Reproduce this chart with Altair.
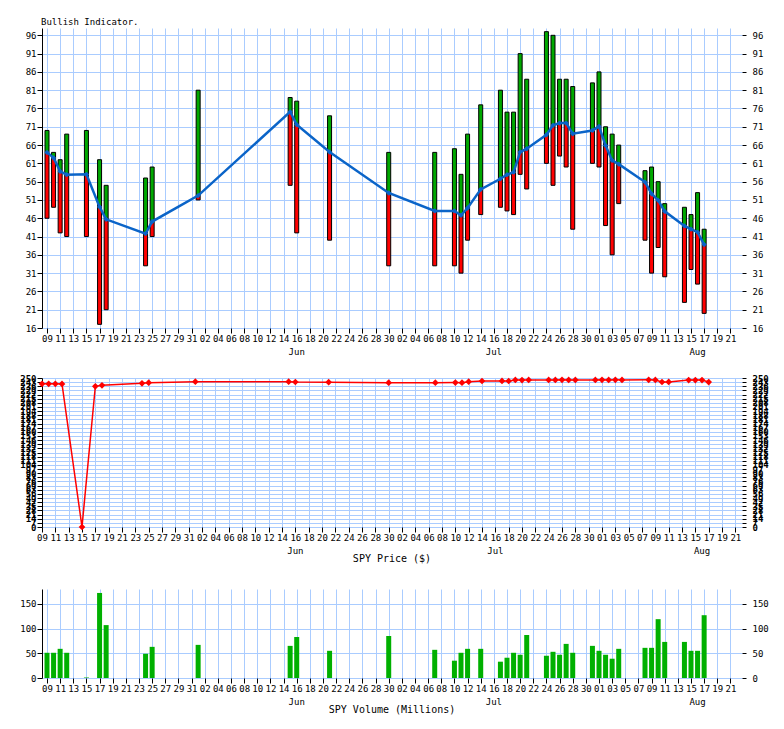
import datetime as dt
import altair as alt
import pandas as pd

# ---------------- data ----------------
dates = [
    "2017-05-09", "2017-05-10", "2017-05-11", "2017-05-12", "2017-05-15",
    "2017-05-17", "2017-05-18", "2017-05-24", "2017-05-25",
    "2017-06-01", "2017-06-15", "2017-06-16", "2017-06-21", "2017-06-30",
    "2017-07-07", "2017-07-10", "2017-07-11", "2017-07-12", "2017-07-14",
    "2017-07-17", "2017-07-18", "2017-07-19", "2017-07-20", "2017-07-21",
    "2017-07-24", "2017-07-25", "2017-07-26", "2017-07-27", "2017-07-28",
    "2017-07-31",
    "2017-08-01", "2017-08-02", "2017-08-03", "2017-08-04", "2017-08-08",
    "2017-08-09", "2017-08-10", "2017-08-11", "2017-08-14", "2017-08-15",
    "2017-08-16", "2017-08-17",
]
highs = [70, 64, 62, 69, 70, 62, 55, 57, 60,
         81, 79, 78, 74, 64,
         64, 65, 58, 69, 77, 81, 75, 75, 91, 84, 97, 96, 84, 84, 82, 83,
         86, 71, 69, 66, 59, 60, 56, 50, 49, 47, 53, 43]
mids = [64, 62.5, 58.8, 57.9, 58, 49.1, 45.7, 41.8, 45.1,
        52.2, 75.1, 71.6, 64.1, 52.9,
        48, 48, 46.8, 48.8, 53.9, 56.8, 57.9, 58.6, 64.1, 65, 68.8, 71.4, 72, 72, 69.1, 70,
        71.1, 65.9, 61.8, 60.8, 55.9, 52.7, 50.9, 47.9, 43.9, 43, 42.2, 38.8]
lows = [46, 49, 42, 41, 41, 17, 21, 33, 41,
        51, 55, 42, 40, 33,
        33, 33, 31, 40, 47, 49, 48, 47, 58, 54, 61, 55, 63, 60, 43, 61,
        60, 44, 36, 50, 40, 31, 38, 30, 23, 32, 28, 20]
prices = [240.3, 240.3, 240.3, 240.1, 0, 236.1, 237.8, 241.1, 242.2,
          243.9, 243.9, 243.3, 243.0, 242.2,
          242.2, 242.3, 242.1, 243.9, 245.0, 245.1, 245.0, 246.7, 246.6, 246.7,
          246.8, 246.7, 246.9, 246.8, 246.7, 246.8,
          247.0, 246.8, 246.9, 246.8, 246.9, 246.7, 243.3, 243.4, 246.5, 246.6,
          246.6, 243.2]
volumes = [51, 51, 59, 51, 1, 172, 107, 49, 63,
           67, 65, 83, 55, 85,
           57, 35, 51, 59, 59, 33, 41, 51, 47, 87, 45, 53, 47, 69, 51, 65,
           55, 47, 39, 59, 61, 61, 119, 73, 73, 55, 55, 127]

month_names = ["Jun", "Jul", "Aug"]
month_label_dates = ["2017-06-16", "2017-07-16", "2017-08-16"]

top_title = "Bullish Indicator."
price_title = "SPY Price ($)"
volume_title = "SPY Volume (Millions)"

# ---------------- tables ----------------
base = dt.date(2017, 5, 9)
BASE_MS = 1494288000000  # 2017-05-09 UTC in ms


def to_day(s):
    return (dt.date.fromisoformat(s) - base).days


df = pd.DataFrame({
    "date": dates, "day": [to_day(d) for d in dates],
    "high": highs, "mid": mids, "low": lows,
    "price": prices, "volume": volumes,
})
mdf = pd.DataFrame({"label": month_names, "day": [to_day(d) for d in month_label_dates]})
one = pd.DataFrame({"k": [0]})

FONT = "DejaVu Sans Mono"
GRID = "#aaccff"
GREEN = "#00a800"
VGREEN = "#00b000"
RED = "#ff0000"
BLUE = "#0a64c8"
W = 700
H1, H2, H3 = 300, 149, 89
LBL = 9
LEFT_EXT = -33.5   # invisible anchor that fixes the left extent of every panel


def xenc():
    return alt.X(
        "day:Q",
        scale=alt.Scale(domain=[0, 105], nice=False, zero=False),
        axis=alt.Axis(
            values=list(range(0, 105, 2)),
            labelExpr=f"utcFormat(datum.value*86400000+{BASE_MS}, '%d')",
            title=None, grid=True, gridColor=GRID, gridWidth=1,
            domain=False, ticks=True, tickSize=5, tickColor="black",
            labelFont=FONT, labelFontSize=LBL, labelColor="black",
            labelPadding=1, labelOverlap=False, labelFlush=False,
        ),
    )


def yleft(values, fmt="d", weight="normal"):
    return alt.Axis(
        values=values, format=fmt, title=None, orient="left", grid=True,
        gridColor=GRID, gridWidth=1, domain=True, domainColor="black",
        tickColor="black", tickSize=5, labelPadding=1, labelFont=FONT,
        labelFontSize=LBL, labelColor="black", labelOverlap=False,
        labelFontWeight=weight,
    )


def yright(values, fmt="d", weight="normal"):
    return alt.Axis(
        values=values, format=fmt, title=None, orient="right", grid=False,
        domain=False, tickColor="black", tickSize=4, labelPadding=6,
        labelFont=FONT, labelFontSize=LBL, labelColor="black",
        labelOverlap=False, labelFontWeight=weight,
    )


def anchor(y0, y1):
    return alt.Chart(one).mark_rule(opacity=0, strokeWidth=1).encode(
        x=alt.value(LEFT_EXT), y=alt.value(y0), y2=alt.value(y1))


def month_layer(h):
    return alt.Chart(mdf).mark_text(
        baseline="middle", align="center", font=FONT, fontSize=LBL, color="black"
    ).encode(x=xenc(), y=alt.value(h + 24), text="label:N")


def title_layer(text, h):
    return alt.Chart(pd.DataFrame({"t": [text]})).mark_text(
        baseline="middle", align="center", font=FONT, fontSize=10, color="black"
    ).encode(x=alt.value(W / 2), y=alt.value(h + 32), text="t:N")


# ---------------- top panel ----------------
ysc = alt.Scale(domain=[16, 98], nice=False, zero=False)
yvals = list(range(16, 97, 5))
green = alt.Chart(df).mark_bar(color=GREEN, stroke="black", strokeWidth=1, size=4).encode(
    x=xenc(), y=alt.Y("mid:Q", scale=ysc, axis=yleft(yvals)), y2="high:Q")
red = alt.Chart(df).mark_bar(color=RED, stroke="black", strokeWidth=1, size=4).encode(
    x=xenc(), y=alt.Y("low:Q", scale=ysc, axis=None), y2="mid:Q")
bline = alt.Chart(df).mark_line(color=BLUE, strokeWidth=2.5).encode(
    x=xenc(), y=alt.Y("mid:Q", scale=ysc, axis=None))
bpts = alt.Chart(df).mark_point(shape="diamond", filled=True, size=28, color=BLUE, opacity=1).encode(
    x=xenc(), y=alt.Y("mid:Q", scale=ysc, axis=None))
bright = alt.Chart(df).mark_point(opacity=0).encode(
    x=xenc(), y=alt.Y("mid:Q", scale=ysc, axis=yright(yvals)))
ttl = alt.Chart(pd.DataFrame({"t": [top_title]})).mark_text(
    align="left", baseline="alphabetic", font=FONT, fontSize=LBL, color="black"
).encode(x=alt.value(-1), y=alt.value(-3), text="t:N")
top = alt.layer(red, green, bline, bpts, bright, ttl, month_layer(H1), anchor(-19, 0)).resolve_axis(
    y="independent").properties(width=W, height=H1)

# ---------------- price panel ----------------
psc = alt.Scale(domain=[0, 250], nice=False, zero=False)
pvals = [round(i * 250 / 36, 3) for i in range(37)]
pline = alt.Chart(df).mark_line(color=RED, strokeWidth=1.5).encode(
    x=xenc(), y=alt.Y("price:Q", scale=psc, axis=yleft(pvals, weight="bold")))
ppts = alt.Chart(df).mark_point(shape="diamond", filled=True, size=45, color=RED, opacity=1).encode(
    x=xenc(), y=alt.Y("price:Q", scale=psc, axis=None))
pright = alt.Chart(df).mark_point(opacity=0).encode(
    x=xenc(), y=alt.Y("price:Q", scale=psc, axis=yright(pvals, weight="bold")))
mid = alt.layer(pline, ppts, pright, month_layer(H2), title_layer(price_title, H2),
                anchor(0, H2 + 45)).resolve_axis(
    y="independent").properties(width=W, height=H2)

# ---------------- volume panel ----------------
vsc = alt.Scale(domain=[0, 180], nice=False, zero=False)
vvals = [0, 50, 100, 150]
vbars = alt.Chart(df).mark_bar(color=VGREEN, size=5).encode(
    x=xenc(), y=alt.Y("volume:Q", scale=vsc, axis=yleft(vvals)))
vright = alt.Chart(df).mark_point(opacity=0).encode(
    x=xenc(), y=alt.Y("volume:Q", scale=vsc, axis=yright(vvals)))
bot = alt.layer(vbars, vright, month_layer(H3), title_layer(volume_title, H3),
                anchor(0, H3)).resolve_axis(
    y="independent").properties(width=W, height=H3)

chart = alt.vconcat(
    alt.vconcat(top, mid, spacing=50, bounds="flush"), bot, spacing=15, bounds="full"
).properties(
    padding={"left": 0, "top": 0, "right": 5, "bottom": 5}
).configure_view(stroke="transparent")

chart.save("out.html", embed_options={"renderer": "svg", "actions": False})
